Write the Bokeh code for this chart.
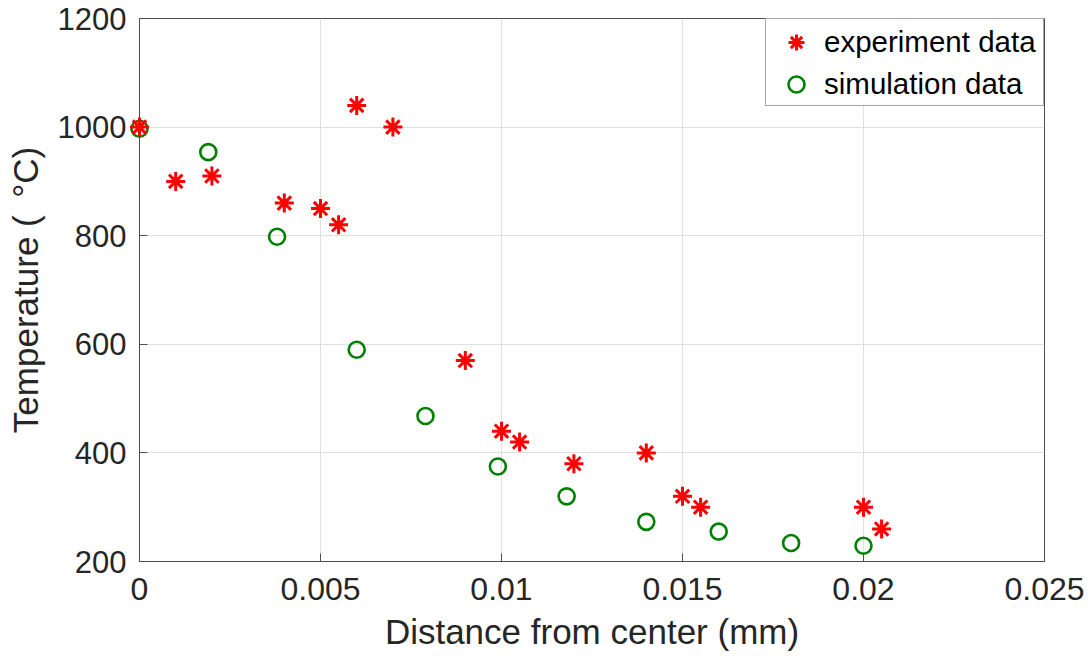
from bokeh.plotting import figure
from bokeh.models import Range1d, FixedTicker, Legend, LegendItem, ColumnDataSource
from bokeh.embed import file_html
from bokeh.resources import INLINE

# experiment data
exp_x = [0.0, 0.001, 0.002, 0.004, 0.005, 0.0055, 0.006, 0.007, 0.009, 0.010,
         0.0105, 0.012, 0.014, 0.015, 0.0155, 0.020, 0.0205]
exp_t = [1000, 900, 910, 860, 850, 820, 1040, 1000, 570, 440,
         420, 380, 400, 320, 300, 300, 260]

# simulation data
sim_x = [0.0, 0.0019, 0.0038, 0.006, 0.0079, 0.0099, 0.0118, 0.014, 0.016, 0.018, 0.020]
sim_t = [997, 954, 798, 590, 468, 375, 320, 273, 255, 234, 229]

x_ticks = [0, 0.005, 0.01, 0.015, 0.02, 0.025]
x_tick_labels = ["0", "0.005", "0.01", "0.015", "0.02", "0.025"]
y_ticks = [200, 400, 600, 800, 1000, 1200]

FONT = "Liberation Sans"
TXT = "#262626"
AX = "#4d4d4d"

p = figure(width=1089, height=663, output_backend="svg", toolbar_location=None,
           x_range=Range1d(0, 0.025), y_range=Range1d(200, 1200),
           min_border_left=139, min_border_right=45, min_border_top=18,
           min_border_bottom=102)
p.background_fill_color = "white"
p.border_fill_color = "white"
p.outline_line_color = AX
p.outline_line_width = 1

for ax in (p.xaxis[0], p.yaxis[0]):
    ax.axis_line_color = AX
    ax.major_tick_line_color = AX
    ax.major_tick_in = 8
    ax.major_tick_out = 0
    ax.minor_tick_line_color = None
    ax.major_label_text_font = FONT
    ax.major_label_text_color = TXT
    ax.axis_label_text_font = FONT
    ax.axis_label_text_font_size = "35px"
    ax.axis_label_text_font_style = "normal"
    ax.axis_label_text_color = TXT

p.xaxis.major_label_text_font_size = "32px"
p.yaxis.major_label_text_font_size = "31px"
p.xaxis.ticker = FixedTicker(ticks=x_ticks)
p.xaxis.major_label_overrides = {t: l for t, l in zip(x_ticks, x_tick_labels)}
p.yaxis.ticker = FixedTicker(ticks=y_ticks)
p.xaxis.axis_label = "Distance from center (mm)"
p.yaxis.axis_label = "Temperature (\u2002°C)"
p.xaxis.major_label_standoff = 16
p.xaxis.axis_label_standoff = 9
p.yaxis.major_label_standoff = 13
p.yaxis.axis_label_standoff = 10

p.xgrid.grid_line_color = "#e0e0e0"
p.ygrid.grid_line_color = "#e0e0e0"

sim_src = ColumnDataSource(dict(x=sim_x, t=sim_t))
exp_src = ColumnDataSource(dict(x=exp_x, t=exp_t))

r_sim = p.scatter("x", "t", source=sim_src, marker="circle", size=16,
                  fill_color=None, line_color="#008000", line_width=2.6,
                  level="overlay")
r_exp = p.scatter("x", "t", source=exp_src, marker="asterisk", size=19,
                  line_color="#ff0000", line_width=3, level="overlay")

legend = Legend(items=[LegendItem(label="experiment data", renderers=[r_exp]),
                       LegendItem(label="simulation data", renderers=[r_sim])],
                location="top_right", margin=0,
                padding=dict(left=10, right=0, top=2, bottom=0), spacing=0,
                glyph_width=40, glyph_height=42, label_height=40,
                label_width=219, label_standoff=8,
                label_text_font=FONT, label_text_font_size="29.5px",
                label_text_color="#000000",
                border_line_color=AX, border_line_width=1,
                background_fill_color="white", background_fill_alpha=1)
p.add_layout(legend, "center")

open("out.html", "w").write(file_html(p, INLINE))
